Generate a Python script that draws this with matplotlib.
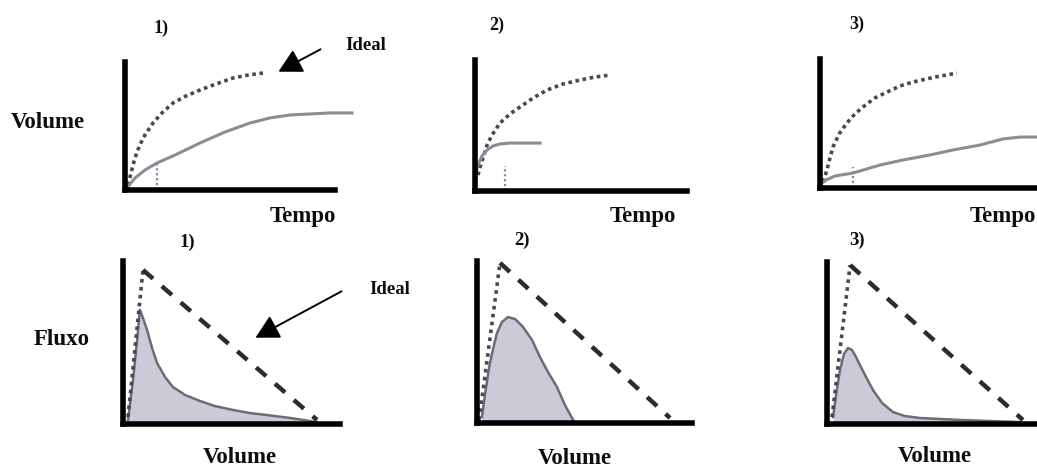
import matplotlib
matplotlib.use("Agg")
import matplotlib.pyplot as plt

# --- data ---
# top row: volume vs time, ideal (dotted) and patient (solid)
top1_ideal_t = [0.14, 0.24, 0.38, 0.57, 0.71, 0.95, 1.33, 1.76, 2.29, 2.90, 3.57, 4.33, 5.14, 5.86, 6.57]
top1_ideal_v = [0.39, 1.02, 1.95, 2.97, 3.52, 4.30, 5.23, 6.02, 6.80, 7.34, 7.81, 8.28, 8.75, 8.98, 9.14]
top1_real_t = [0.1, 0.24, 0.48, 0.95, 1.52, 2.38, 3.57, 4.76, 5.95, 6.90, 7.86, 8.81, 9.76, 10.81]
top1_real_v = [0.16, 0.47, 0.94, 1.56, 2.11, 2.73, 3.67, 4.53, 5.23, 5.63, 5.86, 5.94, 6.02, 6.02]
top1_mark = [1.52, 0.0, 2.3]

top2_ideal_t = [0.14, 0.24, 0.42, 0.57, 0.80, 1.18, 1.65, 2.12, 2.74, 3.40, 4.15, 4.95, 5.66, 6.37]
top2_ideal_v = [1.22, 1.83, 2.75, 3.51, 4.27, 5.19, 5.88, 6.41, 7.10, 7.71, 8.17, 8.47, 8.70, 8.85]
top2_real_t = [0.05, 0.14, 0.33, 0.57, 0.85, 1.18, 1.65, 2.36, 3.07]
top2_real_v = [1.45, 1.98, 2.67, 3.13, 3.44, 3.59, 3.66, 3.66, 3.66]
top2_mark = [1.42, 0.0, 1.9]

top3_ideal_t = [0.14, 0.32, 0.46, 0.60, 0.88, 1.24, 1.61, 1.98, 2.53, 3.09, 3.69, 4.29, 5.30, 6.31]
top3_ideal_v = [0.47, 1.40, 2.33, 3.18, 4.19, 5.04, 5.74, 6.28, 6.98, 7.44, 7.91, 8.22, 8.60, 8.91]
top3_real_t = [0.05, 0.28, 0.69, 1.52, 2.76, 3.82, 5.07, 6.13, 7.37, 8.43, 9.22, 10.0]
top3_real_v = [0.31, 0.62, 0.93, 1.16, 1.78, 2.17, 2.56, 2.95, 3.33, 3.80, 3.95, 3.95]
top3_mark = [1.52, 0.4, 1.6]

# bottom row: flow vs volume, ideal triangle and patient curve
bot1_ideal_x = [0.23, 0.92, 8.94]
bot1_ideal_y = [0.43, 9.45, 0.25]
bot1_real_x = [0.23, 0.46, 0.65, 0.78, 0.92, 1.11, 1.34, 1.57, 1.94, 2.30, 2.86, 3.55,
               4.24, 5.07, 5.85, 6.64, 7.70, 8.94]
bot1_real_y = [0.25, 2.7, 5.15, 7.0, 6.5, 5.77, 4.66, 3.74, 2.88, 2.27, 1.78, 1.41,
               1.10, 0.86, 0.67, 0.55, 0.37, 0.12]

bot2_ideal_x = [0.1, 1.07, 8.98]
bot2_ideal_y = [0.2, 9.88, 0.31]
bot2_real_x = [0.23, 0.37, 0.51, 0.60, 0.79, 0.93, 1.16, 1.44, 1.77, 2.14, 2.56, 2.93,
               3.30, 3.72, 4.09, 4.47]
bot2_real_y = [0.37, 1.73, 2.96, 3.70, 4.81, 5.56, 6.23, 6.54, 6.42, 5.93, 5.12, 4.07,
               3.15, 2.22, 1.11, 0.19]

bot3_ideal_x = [0.24, 1.1, 9.33]
bot3_ideal_y = [0.43, 9.81, 0.25]
bot3_real_x = [0.29, 0.43, 0.62, 0.81, 1.0, 1.19, 1.38, 1.57, 1.86, 2.19, 2.62, 3.14,
               3.71, 4.43, 6.33, 9.19]
bot3_real_y = [0.43, 1.79, 3.33, 4.32, 4.69, 4.57, 4.14, 3.64, 2.90, 2.10, 1.30, 0.74,
               0.49, 0.37, 0.25, 0.12]

W, H = 1037, 469
FONT = "Liberation Serif"


def fx(x):
    return x / W


def fy(y):
    return 1 - y / H


def panel(fig, left, top, right, bottom):
    ax = fig.add_axes([fx(left), fy(bottom), (right - left) / W, (bottom - top) / H])
    ax.set_xlim(0, 10)
    ax.set_ylim(0, 10)
    for s in ["top", "right"]:
        ax.spines[s].set_visible(False)
    for s in ["left", "bottom"]:
        ax.spines[s].set_linewidth(4)
        ax.spines[s].set_color("black")
    ax.set_xticks([])
    ax.set_yticks([])
    ax.patch.set_alpha(0)
    return ax


def top_panel(ax, it, iv, rt, rv, mark):
    ax.plot(it, iv, color="#4a4754", lw=2.6, ls=(0, (1, 1.0)), clip_on=False)
    ax.plot(rt, rv, color="#8d8b93", lw=2.2, clip_on=False)
    ax.plot([mark[0], mark[0]], mark[1:], color="#8a86a0", lw=1.6,
            ls=(0, (1, 1.2)), clip_on=False)


def bottom_panel(ax, ix, iy, rx, ry):
    ax.fill_between(rx, ry, 0, color="#cdcad8", lw=0, clip_on=False)
    ax.plot(rx, ry, color="#6d6b76", lw=1.8, clip_on=False)
    ax.plot(ix[:2], iy[:2], color="#4a4754", lw=2.6, ls=(0, (1, 1.2)), clip_on=False)
    ax.plot(ix[1:], iy[1:], color="#2b2b30", lw=3.2, ls=(0, (3, 2.6)), clip_on=False)


def label(fig, x, y, s, size):
    fig.text(fx(x), fy(y), s, ha="center", va="center", fontsize=size,
             fontweight="bold", family=FONT, color="#0d0d10")


def arrow(fig, x0, y0, x1, y1):
    fig.add_artist(matplotlib.patches.FancyArrowPatch(
        (fx(x0), fy(y0)), (fx(x1), fy(y1)), transform=fig.transFigure,
        arrowstyle="-|>,head_length=1.3,head_width=0.7", mutation_scale=11,
        lw=1.4, color="black"))


fig = plt.figure(figsize=(W / 100, H / 100), dpi=100)
fig.patch.set_facecolor("white")

ax = panel(fig, 125, 62, 335, 190)
top_panel(ax, top1_ideal_t, top1_ideal_v, top1_real_t, top1_real_v, top1_mark)
ax = panel(fig, 475, 60, 687, 191)
top_panel(ax, top2_ideal_t, top2_ideal_v, top2_real_t, top2_real_v, top2_mark)
ax = panel(fig, 820, 59, 1037, 188)
top_panel(ax, top3_ideal_t, top3_ideal_v, top3_real_t, top3_real_v, top3_mark)

ax = panel(fig, 123, 261, 340, 424)
bottom_panel(ax, bot1_ideal_x, bot1_ideal_y, bot1_real_x, bot1_real_y)
ax = panel(fig, 477, 261, 692, 423)
bottom_panel(ax, bot2_ideal_x, bot2_ideal_y, bot2_real_x, bot2_real_y)
ax = panel(fig, 827, 262, 1037, 424)
bottom_panel(ax, bot3_ideal_x, bot3_ideal_y, bot3_real_x, bot3_real_y)

# texts
label(fig, 161, 28, "1)", 13)
label(fig, 497, 25, "2)", 13)
label(fig, 857, 24, "3)", 13)
label(fig, 48, 122, "Volume", 16.5)
label(fig, 303, 216, "Tempo", 16.5)
label(fig, 643, 216, "Tempo", 16.5)
label(fig, 1003, 216, "Tempo", 16.5)
label(fig, 366, 46, "Ideal", 13.5)
arrow(fig, 323, 48, 276, 73)

label(fig, 187, 242, "1)", 13.5)
label(fig, 522, 240, "2)", 13.5)
label(fig, 857, 240, "3)", 13.5)
label(fig, 62, 339, "Fluxo", 16.5)
label(fig, 240, 457, "Volume", 16.5)
label(fig, 575, 458, "Volume", 16.5)
label(fig, 935, 456, "Volume", 16.5)
label(fig, 390, 289, "Ideal", 13.5)
arrow(fig, 344, 290, 253, 339)

fig.savefig("out.png", dpi=100)
